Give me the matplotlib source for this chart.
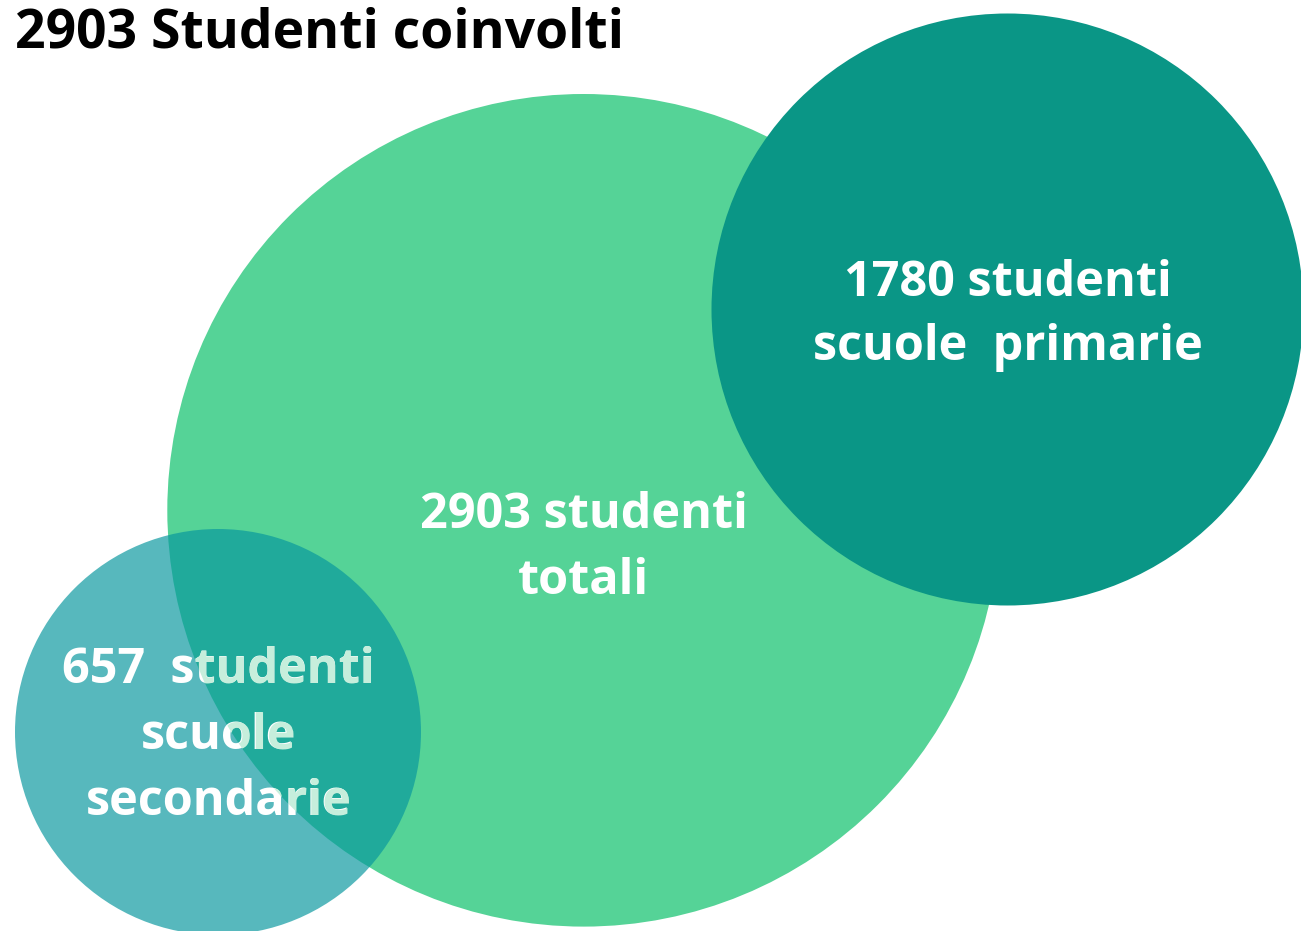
import matplotlib
matplotlib.use("Agg")
import matplotlib.pyplot as plt
from matplotlib.patches import Circle
import matplotlib.patheffects as pe

# ---- data ----
title = "2903 Studenti coinvolti"
categories = ["totali", "primarie", "secondarie"]
values = [2903, 1780, 657]
labels = ["2903 studenti\ntotali",
          "1780 studenti\nscuole  primarie",
          "657  studenti\nscuole\nsecondarie"]

# ---- layout (pixel space) ----
centers = [(583.6, 510.3), (1007.5, 309.5), (218.0, 732.0)]
radii = [416.3, 296.0, 203.0]
first_baseline = [528, 296, 683]
line_step = [66, 64, 66]
colors = ["#55D397", "#0A9686", "#07979E"]
alphas = [1.0, 1.0, 0.68]
zorders = [1, 3, 2]

W, H = 1301, 931
fig = plt.figure(figsize=(W / 100, H / 100), dpi=100)
ax = fig.add_axes([0, 0, 1, 1])
ax.set_xlim(0, W)
ax.set_ylim(H, 0)
ax.set_aspect("equal")
ax.axis("off")

FONT = "Open Sans"

patches = []
for (cx, cy), r, col, a, z in zip(centers, radii, colors, alphas, zorders):
    c = Circle((cx, cy), r, facecolor=col, edgecolor="none", alpha=a, zorder=z)
    ax.add_patch(c)
    patches.append(c)

for i, lab in enumerate(labels):
    cx = centers[i][0]
    for j, line in enumerate(lab.split("\n")):
        y = first_baseline[i] + j * line_step[i]
        ax.text(cx, y, line, ha="center", va="baseline", color="white",
                fontsize=35, fontweight="bold", family=FONT, zorder=10)
        if i == 2:
            # lighter tint where the label overlays the large circle
            t = ax.text(cx, y, line, ha="center", va="baseline", color="#C6EEDC",
                        fontsize=35, fontweight="bold", family=FONT, zorder=11,
                        path_effects=[pe.Normal()])
            t.set_clip_path(Circle(centers[0], radii[0], transform=ax.transData))
            t.set_clip_on(True)

ax.text(15, 47, title, ha="left", va="baseline", color="black",
        fontsize=38.5, fontweight="bold", family=FONT, zorder=10)

fig.savefig("out.png", dpi=100)
